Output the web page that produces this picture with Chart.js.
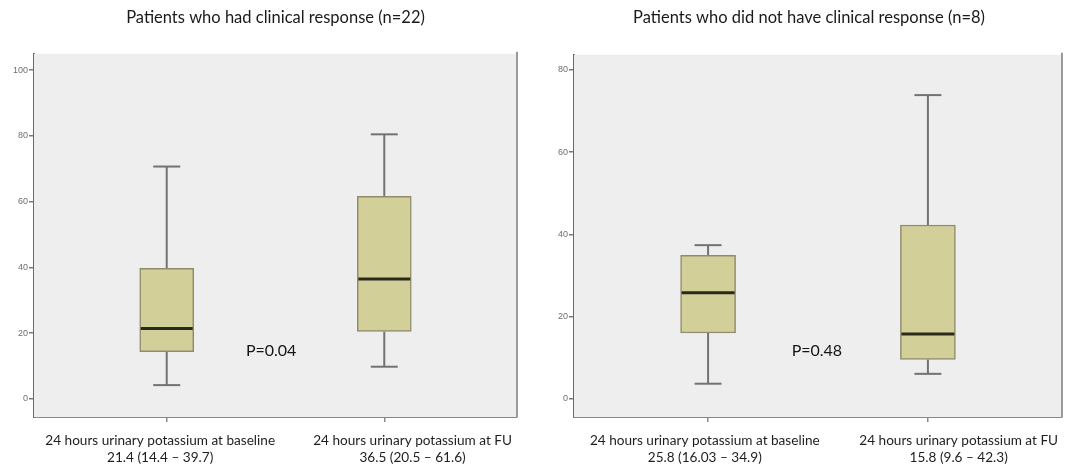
<!DOCTYPE html>
<html>
<head>
<meta charset="utf-8">
<script src="https://cdn.jsdelivr.net/npm/chart.js@4.4.1/dist/chart.umd.min.js"></script>
<style>
  html, body { margin: 0; padding: 0; background: #ffffff; }
  #wrap { position: relative; width: 1072px; height: 469px; }
  .panel { position: absolute; top: 0; width: 536px; height: 469px; }
  #p1 { left: 0; }
  #p2 { left: 536px; }
</style>
</head>
<body>
<div id="wrap">
  <div class="panel" id="p1"><canvas id="c1"></canvas></div>
  <div class="panel" id="p2"><canvas id="c2"></canvas></div>
</div>
<script>
// Groups and measurements
const categories = ['24 hours urinary potassium at baseline', '24 hours urinary potassium at FU'];

// Patients with clinical response (n=22)
const respTitle = 'Patients who had clinical response (n=22)';
const respMedian = [21.4, 36.5];
const respQ1 = [14.4, 20.5];
const respQ3 = [39.7, 61.6];
const respLow = [4.2, 9.8];
const respHigh = [70.7, 80.5];
const respP = 'P=0.04';
const respTicks = [0, 20, 40, 60, 80, 100];

// Patients without clinical response (n=8)
const nonTitle = 'Patients who did not have clinical response (n=8)';
const nonMedian = [25.8, 15.8];
const nonQ1 = [16.03, 9.6];
const nonQ3 = [34.9, 42.3];
const nonLow = [3.7, 6.1];
const nonHigh = [37.4, 73.9];
const nonP = 'P=0.48';
const nonTicks = [0, 20, 40, 60, 80];

const BOX_FILL = '#d3cf99';
const BOX_EDGE = '#8e8c6c';
const WHISKER = '#727272';
const MEDIAN = '#2a2a1c';
const FONT = 'Lato, "Open Sans", sans-serif';

// Box-plot extras: plot background, whiskers, medians, p-value and group captions
const boxExtras = {
  id: 'boxExtras',
  beforeDatasetsDraw(chart, args, o) {
    const {ctx, chartArea: a, scales: {x, y}} = chart;
    ctx.save();
    ctx.fillStyle = '#eeeeee';
    ctx.fillRect(a.left, a.top, a.right - a.left, a.bottom - a.top);
    // right frame edge
    ctx.strokeStyle = '#9a9a9a';
    ctx.lineWidth = 2;
    ctx.beginPath();
    ctx.moveTo(a.right, a.top - 2);
    ctx.lineTo(a.right, a.bottom);
    ctx.stroke();
    // whiskers with caps
    ctx.strokeStyle = WHISKER;
    ctx.lineWidth = 2;
    o.low.forEach((lo, i) => {
      const cx = x.getPixelForValue(i);
      const half = o.capWidth / 2;
      const segs = [[lo, o.q1[i]], [o.q3[i], o.high[i]]];
      segs.forEach(([v0, v1]) => {
        ctx.beginPath();
        ctx.moveTo(cx, y.getPixelForValue(v0));
        ctx.lineTo(cx, y.getPixelForValue(v1));
        ctx.stroke();
      });
      [lo, o.high[i]].forEach(v => {
        const py = y.getPixelForValue(v);
        ctx.beginPath();
        ctx.moveTo(cx - half, py);
        ctx.lineTo(cx + half, py);
        ctx.stroke();
      });
    });
    ctx.restore();
  },
  afterDatasetsDraw(chart, args, o) {
    const {ctx, chartArea: a, scales: {x, y}} = chart;
    ctx.save();
    // medians
    ctx.strokeStyle = MEDIAN;
    ctx.lineWidth = 3;
    o.median.forEach((m, i) => {
      const bar = chart.getDatasetMeta(0).data[i];
      const py = y.getPixelForValue(m);
      ctx.beginPath();
      ctx.moveTo(bar.x - bar.width / 2 + 1, py);
      ctx.lineTo(bar.x + bar.width / 2 - 1, py);
      ctx.stroke();
    });
    // p-value
    ctx.fillStyle = '#151515';
    ctx.font = '16px ' + FONT;
    ctx.textAlign = 'center';
    ctx.textBaseline = 'middle';
    ctx.fillText(o.pText, x.getPixelForValue(o.pAt[0]), y.getPixelForValue(o.pAt[1]));
    // group captions under the axis
    ctx.fillStyle = '#1e1e1e';
    ctx.font = '13.6px ' + FONT;
    categories.forEach((c, i) => {
      const cx = x.getPixelForValue(o.captionAt[i]);
      ctx.fillText(c, cx, a.bottom + 24);
      ctx.fillText(`${o.median[i]} (${o.q1[i]} \u2013 ${o.q3[i]})`, cx, a.bottom + 41);
    });
    ctx.restore();
  }
};

function makePanel(canvasId, cfg) {
  return new Chart(document.getElementById(canvasId), {
    type: 'bar',
    data: {
      datasets: [{
        data: cfg.q1.map((q, i) => ({x: i, y: [q, cfg.q3[i]]})),
        backgroundColor: BOX_FILL,
        borderColor: BOX_EDGE,
        borderWidth: 1.5,
        borderSkipped: false,
        barThickness: cfg.boxWidth
      }]
    },
    plugins: [boxExtras],
    options: {
      responsive: true,
      maintainAspectRatio: false,
      animation: false,
      events: [],
      layout: {padding: {left: cfg.padLeft, right: cfg.padRight, top: 0, bottom: 0}},
      plugins: {
        legend: {display: false},
        tooltip: {enabled: false},
        title: {
          display: true,
          text: cfg.title,
          fullSize: cfg.titleFull,
          color: '#1a1a1a',
          font: {family: FONT, size: 16.5, weight: 'normal', lineHeight: 1.2},
          padding: {top: 8, bottom: cfg.titleGap}
        },
        boxExtras: {
          median: cfg.median, q1: cfg.q1, q3: cfg.q3, low: cfg.low, high: cfg.high,
          capWidth: 27, pText: cfg.pText, pAt: cfg.pAt, captionAt: cfg.captionAt
        }
      },
      scales: {
        x: {
          type: 'linear',
          min: -0.61,
          max: 1.61,
          offset: false,
          afterBuildTicks: s => { s.ticks = categories.map((c, i) => ({value: i})); },
          afterFit: s => { s.height = 52; },
          ticks: {display: false},
          grid: {offset: false, drawOnChartArea: false, drawTicks: true, tickLength: 5, color: '#8a8a8a', lineWidth: 1.5},
          border: {display: true, color: '#8a8a8a', width: 2}
        },
        y: {
          min: cfg.range[0],
          max: cfg.range[1],
          afterBuildTicks: s => { s.ticks = cfg.ticks.map(v => ({value: v})); },
          afterFit: s => { s.width = cfg.axisWidth; },
          ticks: {
            color: '#6e6e6e',
            padding: 1,
            font: {family: '"Liberation Sans", Arial, sans-serif', size: 9}
          },
          grid: {drawOnChartArea: false, drawTicks: true, tickLength: 5, color: '#7a7a7a', lineWidth: 1.5},
          border: {display: true, color: '#6a6a6a', width: 2}
        }
      }
    }
  });
}

makePanel('c1', {
  title: respTitle, median: respMedian, q1: respQ1, q3: respQ3, low: respLow, high: respHigh,
  pText: respP, pAt: [0.48, 14.6], captionAt: [-0.03, 1.13],
  ticks: respTicks, range: [-5.5, 105], padLeft: 0, axisWidth: 34, padRight: 19,
  titleFull: false, titleGap: 26, boxWidth: 54
});

makePanel('c2', {
  title: nonTitle, median: nonMedian, q1: nonQ1, q3: nonQ3, low: nonLow, high: nonHigh,
  pText: nonP, pAt: [0.495, 11.8], captionAt: [-0.015, 1.14],
  ticks: nonTicks, range: [-4.4, 83.7], padLeft: 20, axisWidth: 18, padRight: 10,
  titleFull: true, titleGap: 27, boxWidth: 55
});
</script>
</body>
</html>
